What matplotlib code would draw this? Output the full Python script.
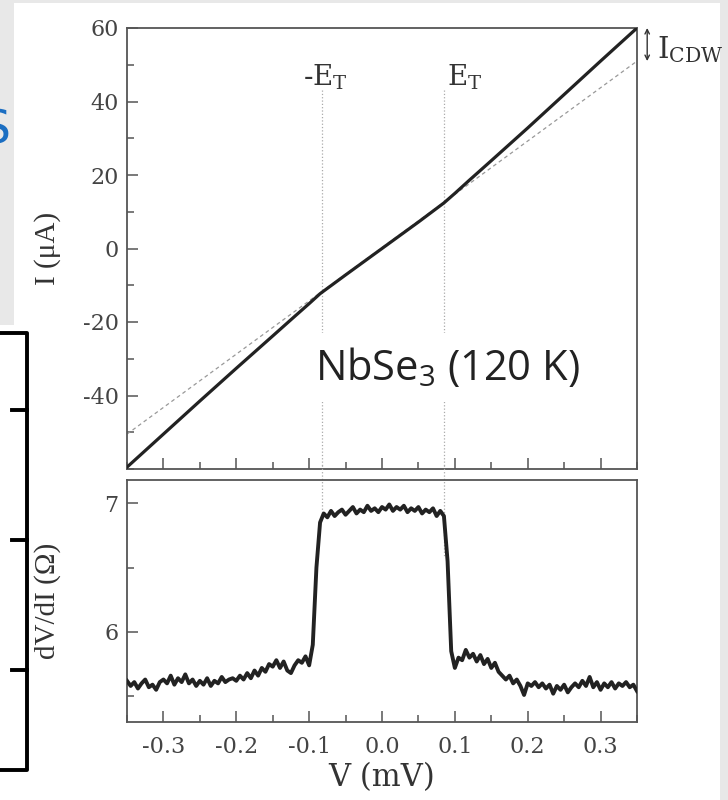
import numpy as np
import matplotlib.pyplot as plt
from matplotlib.patches import Rectangle
from matplotlib.lines import Line2D
from matplotlib.ticker import MultipleLocator, FormatStrFormatter

plt.rcParams['font.family'] = ['DejaVu Serif']
plt.rcParams['axes.unicode_minus'] = False

# I-V curve of NbSe3 at 120 K (top panel)
iv_bias = [-0.35, -0.30, -0.25, -0.20, -0.15, -0.12, -0.10, -0.085, -0.05, 0.0,
           0.05, 0.085, 0.10, 0.12, 0.15, 0.20, 0.25, 0.30, 0.35]
iv_current = [-59.5, -50.5, -41.5, -32.6, -23.8, -18.5, -15.0, -12.3, -7.2, 0.0,
              7.2, 12.4, 15.0, 18.6, 23.9, 32.8, 41.9, 51.0, 60.0]
iv_yticks = [-40, -20, 0, 20, 40, 60]

# ohmic extrapolation (dashed)
ohmic_bias = [-0.35, 0.35]
ohmic_current = [-50.5, 51.0]

# threshold fields -E_T / E_T
threshold_bias = [-0.083, 0.085]
threshold_low = [6.93, 6.58]

# I_CDW arrow
icdw_bias = 0.364
icdw_span = [51.0, 60.0]

# differential resistance dV/dI (bottom panel), one value every 0.005 mV
dvdi_values = [
    5.62, 5.58, 5.61, 5.56, 5.60, 5.63, 5.57, 5.59, 5.55, 5.61,
    5.63, 5.60, 5.66, 5.59, 5.64, 5.61, 5.67, 5.60, 5.63, 5.58,
    5.62, 5.59, 5.64, 5.58, 5.62, 5.60, 5.65, 5.61, 5.63, 5.64,
    5.62, 5.66, 5.63, 5.68, 5.64, 5.70, 5.66, 5.72, 5.69, 5.75,
    5.73, 5.78, 5.72, 5.77, 5.70, 5.68, 5.74, 5.78, 5.76, 5.81,
    5.74, 5.90, 6.50, 6.85, 6.92, 6.89, 6.94, 6.90, 6.93, 6.95,
    6.91, 6.94, 6.97, 6.92, 6.95, 6.93, 6.98, 6.94, 6.96, 6.93,
    6.97, 6.95, 6.99, 6.94, 6.97, 6.95, 6.98, 6.93, 6.96, 6.94,
    6.97, 6.92, 6.95, 6.93, 6.96, 6.90, 6.94, 6.90, 6.55, 5.85,
    5.72, 5.80, 5.78, 5.86, 5.80, 5.83, 5.77, 5.82, 5.75, 5.79,
    5.72, 5.76, 5.69, 5.66, 5.63, 5.66, 5.60, 5.63, 5.58, 5.51,
    5.60, 5.58, 5.61, 5.57, 5.60, 5.56, 5.59, 5.52, 5.58, 5.55,
    5.59, 5.53, 5.57, 5.60, 5.57, 5.62, 5.58, 5.65, 5.57, 5.61,
    5.55, 5.60, 5.57, 5.61, 5.56, 5.60, 5.58, 5.61, 5.57, 5.59,
    5.54,
]
dvdi_bias = np.linspace(-0.35, 0.35, len(dvdi_values))

W, H = 728, 800


def fx(px):
    return px / W


def fy(py):
    return 1 - py / H


fig = plt.figure(figsize=(7.28, 8.0), dpi=100, facecolor='#e8e8e8')

# slide background pieces
fig.add_artist(Rectangle((fx(14), 0), fx(720) - fx(14), fy(3), transform=fig.transFigure,
                         facecolor='white', edgecolor='none', zorder=-2))
fig.add_artist(Rectangle((0, 0), fx(15), fy(325), transform=fig.transFigure,
                         facecolor='white', edgecolor='none', zorder=-2))
fig.add_artist(Line2D([fx(0), fx(27), fx(27), fx(0)], [fy(333), fy(333), fy(770), fy(770)],
                      transform=fig.transFigure, color='black', lw=2.8, zorder=-1))
for py in [410, 540, 670]:
    fig.add_artist(Line2D([fx(12), fx(27)], [fy(py), fy(py)], transform=fig.transFigure,
                          color='black', lw=2.8, zorder=-1))
fig.text(fx(11), fy(143), 'S', fontsize=34, color='#1b6ec2', ha='right', va='baseline',
         family='DejaVu Sans')

ax1 = fig.add_axes([fx(127), fy(469), fx(637) - fx(127), fy(28) - fy(469)])
ax2 = fig.add_axes([fx(127), fy(722), fx(637) - fx(127), fy(480) - fy(722)])

for ax in (ax1, ax2):
    for s in ax.spines.values():
        s.set_color('#555555')
        s.set_linewidth(1.3)
    ax.tick_params(which='both', direction='in', top=False, right=False,
                   color='#555555', labelcolor='#444444', labelsize=16, width=1.1)
    ax.tick_params(which='major', length=8)
    ax.tick_params(which='minor', length=5)
    ax.tick_params(axis='y', pad=6)
    ax.xaxis.set_major_locator(MultipleLocator(0.1))
    ax.xaxis.set_minor_locator(MultipleLocator(0.05))
    ax.set_xlim(-0.35, 0.35)

# top panel
ax1.plot(iv_bias, iv_current, color='#222222', lw=2.3, zorder=4)
ax1.plot(ohmic_bias, ohmic_current, color='#999999', lw=0.9, ls=(0, (3, 2.5)), zorder=2)
for vt, low in zip(threshold_bias, threshold_low):
    ax1.plot([vt, vt], [43.2, -60], color='#aaaaaa', lw=0.9, ls=':', zorder=1)
    ax2.plot([vt, vt], [7.3, low], color='#aaaaaa', lw=0.9, ls=':', zorder=1, clip_on=False)

ax1.set_ylim(-60, 60)
ax1.set_yticks(iv_yticks)
ax1.yaxis.set_minor_locator(MultipleLocator(10))
ax1.tick_params(labelbottom=False)
ax1.set_ylabel('I (μA)', family='Liberation Serif', fontsize=21, color='#333333')
ax1.yaxis.set_label_coords(-0.13, 0.5)

ax1.text(-0.108, 44.3, r'-E$_\mathregular{T}$', fontsize=20, color='#333333', va='baseline')
ax1.text(0.089, 44.3, r'E$_\mathregular{T}$', fontsize=20, color='#333333', va='baseline')
ax1.text(0.378, 51.9, r'I$_\mathregular{CDW}$', fontsize=21, color='#333333', va='baseline',
         clip_on=False)
ax1.annotate('', xy=(icdw_bias, icdw_span[1]), xytext=(icdw_bias, icdw_span[0]),
             arrowprops=dict(arrowstyle='<->', lw=1.0, color='#333333', shrinkA=0, shrinkB=0,
                             mutation_scale=8),
             annotation_clip=False)
ax1.text(0.09, -32.5, r'NbSe$_\mathregular{3}$ (120 K)', fontsize=30, family='Open Sans',
         color='#222222', ha='center', va='center', zorder=3,
         bbox=dict(facecolor='white', edgecolor='none', boxstyle='square,pad=0.3'))

# bottom panel
ax2.plot(dvdi_bias, dvdi_values, color='#222222', lw=2.8, zorder=4)
ax2.set_ylim(5.30, 7.18)
ax2.yaxis.set_major_locator(MultipleLocator(1))
ax2.yaxis.set_minor_locator(MultipleLocator(0.5))
ax2.yaxis.set_major_formatter(FormatStrFormatter('%d'))
ax2.xaxis.set_major_formatter(FormatStrFormatter('%.1f'))
ax2.tick_params(axis='x', pad=10)
ax2.set_ylabel('dV/dI (Ω)', family='Liberation Serif', fontsize=21, color='#333333')
ax2.yaxis.set_label_coords(-0.13, 0.5)
ax2.set_xlabel('V (mV)', fontsize=22, color='#333333')
ax2.xaxis.set_label_coords(0.5, -0.165)

fig.savefig('out.png', dpi=100, facecolor=fig.get_facecolor())
